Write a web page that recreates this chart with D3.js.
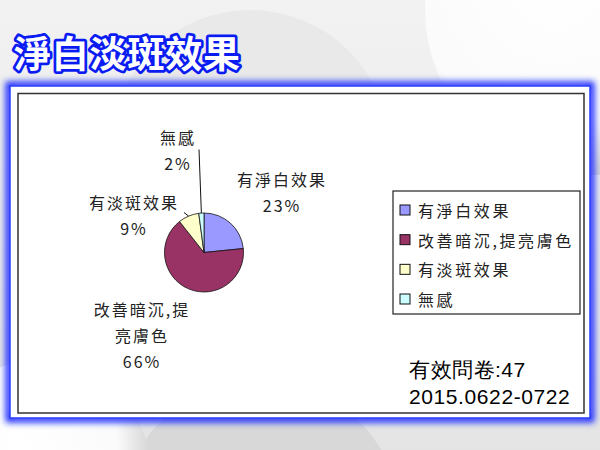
<!DOCTYPE html>
<meta charset="utf-8">
<style>
body { margin: 0; background: #ececec; }
svg { display: block; }
text { font-family: "Noto Sans CJK TC", "Noto Sans", sans-serif; }
.lbl { font-size: 16px; fill: #222; letter-spacing: 2px; }
.legendText { font-size: 16px; fill: #222; letter-spacing: 2.6px; }
.note { fill: #000; font-family: "Liberation Sans", Arial, sans-serif; }
</style>
<body>
<svg id="chart" width="600" height="450"></svg>
<script src="https://cdn.jsdelivr.net/npm/d3@7"></script>
<script>

// data (47 questionnaires)
const categories = ["有淨白效果", "改善暗沉,提亮膚色", "有淡斑效果", "無感"]
const counts = [11, 31, 4, 1]
const percentLabels = ["23%", "66%", "9%", "2%"]
// label lines as they are wrapped in the picture
const labelLines = [["有淨白效果"], ["改善暗沉,提", "亮膚色"], ["有淡斑效果"], ["無感"]]
const colors = ["#9999ff", "#993366", "#ffffcc", "#ccffff"]

const title = "淨白淡斑效果"
const notes = ["有效問卷:47", "2015.0622-0722"]

const width = 600, height = 450

const svg = d3.select("#chart")

// background: grey with soft white spheres
const defs = svg.append("defs")
const bgGrad = defs.append("linearGradient")
    .attr("id", "bg").attr("x1", 0).attr("y1", 0).attr("x2", 0).attr("y2", 1)
bgGrad.append("stop").attr("offset", "0%").attr("stop-color", "#f2f2f2")
bgGrad.append("stop").attr("offset", "100%").attr("stop-color", "#e4e4e4")

const sphere = defs.append("radialGradient").attr("id", "sphere")
    .attr("cx", "40%").attr("cy", "40%").attr("r", "60%")
sphere.append("stop").attr("offset", "0%").attr("stop-color", "#ffffff")
sphere.append("stop").attr("offset", "75%").attr("stop-color", "#fbfbfb")
sphere.append("stop").attr("offset", "100%").attr("stop-color", "#d6d6d6")

const glow = defs.append("filter").attr("id", "glow")
    .attr("x", "-5%").attr("y", "-5%").attr("width", "110%").attr("height", "110%")
glow.append("feGaussianBlur").attr("stdDeviation", 3)

svg.append("rect").attr("width", width).attr("height", height).attr("fill", "url(#bg)")
svg.append("circle").attr("cx", 590).attr("cy", 10).attr("r", 165).attr("fill", "url(#sphere)")
svg.append("circle").attr("cx", 250).attr("cy", 150).attr("r", 140).attr("fill", "#e9e9e9")
svg.append("circle").attr("cx", 260).attr("cy", 520).attr("r", 140).attr("fill", "#d8d8d8")
svg.append("circle").attr("cx", 40).attr("cy", 470).attr("r", 110).attr("fill", "url(#sphere)")

// title
svg.append("text")
    .attr("x", 14)
    .attr("y", 68)
    .attr("font-size", 37)
    .attr("font-weight", 700)
    .attr("letter-spacing", 0.8)
    .attr("fill", "#fff")
    .attr("stroke", "#0a1cf2")
    .attr("stroke-width", 5.5)
    .attr("stroke-linejoin", "round")
    .attr("paint-order", "stroke")
    .text(title)

// white panel with blue glow
svg.append("rect")
    .attr("x", 9).attr("y", 85).attr("width", 582).attr("height", 334)
    .attr("fill", "none").attr("stroke", "#1a2cff").attr("stroke-width", 7)
    .attr("filter", "url(#glow)")
svg.append("rect")
    .attr("x", 10).attr("y", 86).attr("width", 580).attr("height", 332)
    .attr("fill", "#fff").attr("stroke", "#2a3cff").attr("stroke-width", 1.5)
svg.append("rect")
    .attr("x", 18).attr("y", 93.5).attr("width", 566).attr("height", 319.5)
    .attr("fill", "#fff").attr("stroke", "#333").attr("stroke-width", 1.5)

// pie
const cx = 204, cy = 252.5, r = 39.5

const pie = d3.pie().sort(null)
const arcs = pie(counts)
const arc = d3.arc().innerRadius(0).outerRadius(r)

const g = svg.append("g").attr("transform", `translate(${cx}, ${cy})`)

g.selectAll("path.slice")
  .data(arcs)
  .join("path")
    .attr("class", "slice")
    .attr("d", arc)
    .attr("fill", (d, i) => colors[i])
    .attr("stroke", "#111")
    .attr("stroke-width", 0.8)

// label anchors relative to the pie centre (centre of first line)
const labelPos = [[78, -74], [-62, 56], [-70, -51], [-26, -116]]
const lineGap = 26

const labels = g.selectAll("g.lbl")
  .data(arcs)
  .join("g")
    .attr("class", "lbl")
    .attr("transform", (d, i) => `translate(${labelPos[i][0]}, ${labelPos[i][1]})`)

labels.each(function(d, i) {
  const lines = labelLines[i].concat([percentLabels[i]])
  d3.select(this).selectAll("text")
    .data(lines)
    .join("text")
      .attr("class", "lbl")
      .attr("text-anchor", "middle")
      .attr("dominant-baseline", "central")
      .attr("y", (t, j) => j * lineGap)
      .text(t => t)
})

// leader lines for the two small slices
const outer = (d, rad) => {
  const a = (d.startAngle + d.endAngle) / 2
  return [Math.sin(a) * rad, -Math.cos(a) * rad]
}
const leaders = [
  {d: arcs[3], to: [-5, -103]},
  {d: arcs[2], to: [-20, -40]}
]
g.selectAll("line.leader")
  .data(leaders)
  .join("line")
    .attr("class", "leader")
    .attr("x1", l => outer(l.d, r)[0])
    .attr("y1", l => outer(l.d, r)[1])
    .attr("x2", l => l.to[0])
    .attr("y2", l => l.to[1])
    .attr("stroke", "#111")
    .attr("stroke-width", 1)

// legend
const legend = svg.append("g").attr("transform", "translate(393, 191)")
legend.append("rect")
    .attr("width", 187).attr("height", 123)
    .attr("fill", "#fff").attr("stroke", "#222").attr("stroke-width", 1.2)

const rowY = d3.scalePoint().domain(categories).range([19, 108])

const rows = legend.selectAll("g.row")
  .data(categories)
  .join("g")
    .attr("class", "row")
    .attr("transform", d => `translate(0, ${rowY(d)})`)
rows.append("rect")
    .attr("x", 7).attr("y", -5).attr("width", 10).attr("height", 10)
    .attr("fill", (d, i) => colors[i]).attr("stroke", "#111").attr("stroke-width", 1)
rows.append("text")
    .attr("class", "legendText")
    .attr("x", 25)
    .attr("dominant-baseline", "central")
    .text(d => d)

// notes
svg.append("text")
    .attr("class", "note")
    .attr("x", 409).attr("y", 377)
    .attr("font-size", 21)
    .attr("letter-spacing", 0.5)
    .text(notes[0])
svg.append("text")
    .attr("class", "note")
    .attr("x", 409).attr("y", 404)
    .attr("font-size", 21)
    .attr("letter-spacing", 0.6)
    .text(notes[1])

</script>
</body>
